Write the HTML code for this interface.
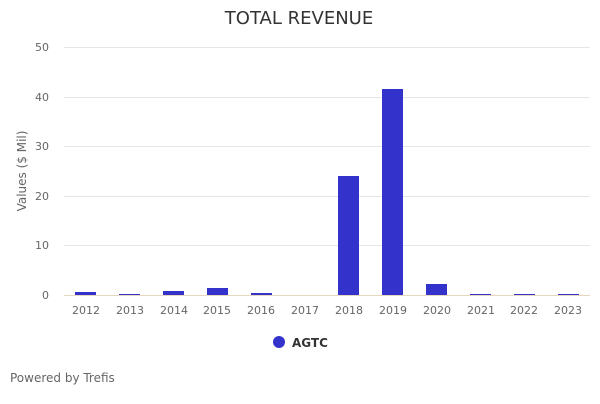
<!DOCTYPE html>
<html><head><meta charset="utf-8"><style>
body{margin:0;background:#fff;width:600px;height:400px;overflow:hidden;font-family:"DejaVu Sans",sans-serif;}
</style></head><body>
<svg width="600" height="400" xmlns="http://www.w3.org/2000/svg" font-family="DejaVu Sans, sans-serif">
<text x="299" y="24" text-anchor="middle" font-size="18" fill="#333">TOTAL REVENUE</text>
<g stroke="#e6e6e6" stroke-width="1">
<line x1="64" x2="590" y1="47.5" y2="47.5"/>
<line x1="64" x2="590" y1="97.5" y2="97.5"/>
<line x1="64" x2="590" y1="146.5" y2="146.5"/>
<line x1="64" x2="590" y1="196.5" y2="196.5"/>
<line x1="64" x2="590" y1="245.5" y2="245.5"/>
</g>
<line x1="64" x2="590" y1="295.5" y2="295.5" stroke="#e6d8c0"/>
<g font-size="11" fill="#666" text-anchor="end">
<text x="49" y="51">50</text><text x="49" y="101">40</text><text x="49" y="150">30</text>
<text x="49" y="200">20</text><text x="49" y="249">10</text><text x="49" y="299">0</text>
</g>
<text transform="translate(26,171) rotate(-90)" text-anchor="middle" font-size="12" fill="#666">Values ($ Mil)</text>
<g fill="#3333cc">
<rect x="75" y="292" width="21" height="3"/>
<rect x="119" y="294" width="21" height="1"/>
<rect x="163" y="291" width="21" height="4"/>
<rect x="207" y="288" width="21" height="7"/>
<rect x="251" y="293" width="21" height="2"/>
<rect x="338" y="176" width="21" height="119"/>
<rect x="382" y="89" width="21" height="206"/>
<rect x="426" y="284" width="21" height="11"/>
<rect x="470" y="294" width="21" height="1"/>
<rect x="514" y="294" width="21" height="1"/>
<rect x="558" y="294" width="21" height="1"/>
</g>
<g font-size="11" fill="#666" text-anchor="middle">
<text x="86" y="314">2012</text><text x="130" y="314">2013</text><text x="174" y="314">2014</text>
<text x="217" y="314">2015</text><text x="261" y="314">2016</text><text x="305" y="314">2017</text>
<text x="349" y="314">2018</text><text x="393" y="314">2019</text><text x="437" y="314">2020</text>
<text x="481" y="314">2021</text><text x="524" y="314">2022</text><text x="568" y="314">2023</text>
</g>
<circle cx="279" cy="342" r="6" fill="#3333cc"/>
<text x="292" y="347" font-size="12" font-weight="bold" fill="#333">AGTC</text>
<text x="10" y="382" font-size="12" fill="#666">Powered by Trefis</text>
</svg>
</body></html>
